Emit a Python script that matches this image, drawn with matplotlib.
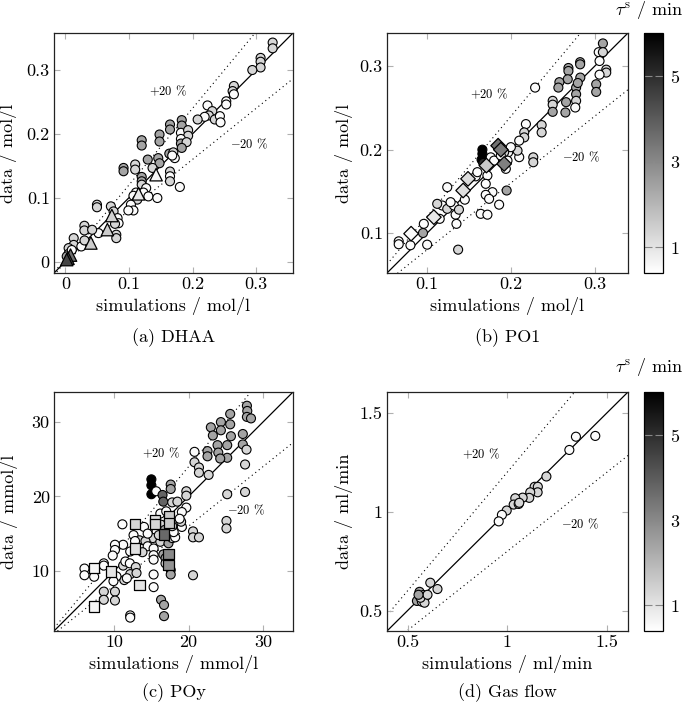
import matplotlib
matplotlib.use("Agg")
import matplotlib.pyplot as plt
import numpy as np

plt.rcParams['font.family'] = 'serif'
plt.rcParams['font.serif'] = ['cmr10']
plt.rcParams['mathtext.fontset'] = 'cm'
plt.rcParams['axes.formatter.use_mathtext'] = True
plt.rcParams['axes.unicode_minus'] = False

W, L, M, D, K = 0.5, 1.3, 2.4, 3.8, 6.0

# ---------------- (a) DHAA ----------------
a_x = [0.326, 0.326, 0.307, 0.307, 0.307, 0.294, 0.265, 0.263, 0.265, 0.253, 0.253, 0.2235, 0.231, 0.2256, 0.219,
       0.235, 0.243, 0.244, 0.208, 0.183, 0.183, 0.1645, 0.1645, 0.1817, 0.193, 0.193, 0.1817, 0.1817, 0.1906, 0.183,
       0.148, 0.148, 0.120, 0.120, 0.1634, 0.1697, 0.172, 0.168, 0.1295, 0.146, 0.148, 0.137, 0.1097, 0.1097, 0.0914,
       0.0914, 0.1645, 0.1645, 0.1645, 0.120, 0.120, 0.120, 0.180, 0.127, 0.1227, 0.1305, 0.111, 0.107, 0.113, 0.103,
       0.107, 0.099, 0.1446, 0.0496, 0.0496, 0.0715, 0.0757, 0.082, 0.0836, 0.078, 0.080, 0.080, 0.052, 0.0298, 0.0298,
       0.042, 0.013, 0.013, 0.025, 0.005, 0.030, 0.005, 0.010, 0.002]
a_y = [0.343, 0.334, 0.319, 0.313, 0.304, 0.300, 0.275, 0.267, 0.262, 0.251, 0.246, 0.2445, 0.2356, 0.2288, 0.2267,
       0.2225, 0.2277, 0.218, 0.2225, 0.2215, 0.213, 0.2147, 0.2068, 0.2016, 0.2058, 0.197, 0.192, 0.1848, 0.187, 0.178,
       0.199, 0.188, 0.190, 0.1817, 0.169, 0.171, 0.162, 0.166, 0.1597, 0.162, 0.154, 0.1466, 0.152, 0.144, 0.1466,
       0.1414, 0.141, 0.1335, 0.1257, 0.1325, 0.1257, 0.1204, 0.1168, 0.115, 0.108, 0.102, 0.108, 0.103, 0.097, 0.089,
       0.080, 0.080, 0.0995, 0.089, 0.085, 0.0864, 0.0785, 0.068, 0.060, 0.059, 0.042, 0.0366, 0.0445, 0.056, 0.0487,
       0.0497, 0.0366, 0.026, 0.0236, 0.021, 0.033, 0.012, 0.018, 0.008]
a_tau = [L, L, L, L, L, L, L, L, W, W, W, W, L, L, W,
         L, W, W, L, M, M, M, M, W, L, L, W, M, L, M,
         M, M, M, M, M, L, W, W, M, M, M, L, L, L, M,
         M, L, W, L, M, M, L, W, W, W, W, W, W, L, W,
         W, W, W, L, L, L, L, W, W, L, L, L, W, L, L,
         L, L, L, W, L, L, L, W, M]
a_tri_x = [0.1426, 0.115, 0.073, 0.066, 0.040, 0.008, 0.004, 0.002]
a_tri_y = [0.136, 0.106, 0.072, 0.050, 0.029, 0.010, 0.005, 0.003]
a_tri_tau = [0.6, 0.9, 1.4, 1.5, 1.5, 3.6, 4.2, 4.5]

# ---------------- (b) PO1 ----------------
b_x = [0.31, 0.305, 0.31, 0.306, 0.314, 0.314, 0.306, 0.302, 0.302, 0.2828, 0.2828, 0.2688, 0.2688, 0.283, 0.278,
       0.278, 0.280, 0.268, 0.258, 0.2568, 0.266, 0.278, 0.277, 0.25, 0.25, 0.25, 0.2652, 0.229, 0.2368, 0.2368,
       0.218, 0.216, 0.216, 0.21, 0.2268, 0.2268, 0.21, 0.195, 0.166, 0.166, 0.165, 0.167, 0.176, 0.18, 0.1968,
       0.196, 0.194, 0.172, 0.17, 0.178, 0.17, 0.174, 0.186, 0.164, 0.172, 0.124, 0.118, 0.124, 0.132, 0.134,
       0.135, 0.112, 0.096, 0.095, 0.1, 0.066, 0.066, 0.08, 0.137, 0.158, 0.16, 0.208, 0.2, 0.192, 0.188,
       0.138, 0.145, 0.115, 0.128]
b_y = [0.3275, 0.317, 0.317, 0.3064, 0.296, 0.2925, 0.290, 0.2785, 0.2693, 0.305, 0.3024, 0.298, 0.2944, 0.2865, 0.2745,
       0.2665, 0.280, 0.2845, 0.281, 0.2745, 0.257, 0.2586, 0.2506, 0.2586, 0.254, 0.2454, 0.2446, 0.2745, 0.2295, 0.2207,
       0.2307, 0.2207, 0.2147, 0.2108, 0.1908, 0.1849, 0.191, 0.151, 0.200, 0.195, 0.188, 0.184, 0.1908, 0.1869, 0.1968,
       0.1869, 0.177, 0.169, 0.159, 0.149, 0.1458, 0.141, 0.134, 0.123, 0.122, 0.155, 0.133, 0.129, 0.133, 0.122,
       0.111, 0.135, 0.111, 0.100, 0.086, 0.09, 0.0865, 0.0853, 0.080, 0.168, 0.173, 0.1988, 0.203, 0.197, 0.193,
       0.128, 0.140, 0.117, 0.137]
b_tau = [M, W, L, W, L, L, W, M, M, M, M, M, M, M, M,
         M, M, M, M, M, M, L, W, L, L, M, M, W, L, L,
         W, L, L, W, L, L, W, M, K, K, K, 5.0, W, W, W,
         W, W, W, W, W, W, W, W, W, W, W, W, L, W, W,
         W, L, W, M, W, W, W, W, L, W, W, L, W, L, W,
         L, W, W, W]
b_dia_x = [0.1848, 0.188, 0.192, 0.1708, 0.1488, 0.143, 0.108, 0.0808]
b_dia_y = [0.2048, 0.200, 0.1829, 0.1809, 0.165, 0.151, 0.119, 0.0992]
b_dia_tau = [3.5, 3.3, 3.2, 1.6, 1.2, 1.1, 0.9, 0.5]

# ---------------- (c) POy ----------------
c_x = [27.85, 27.9, 27.85, 28.4, 25.6, 25.6, 24.35, 24.35, 23.0, 23.27, 23.9, 24.0, 25.2, 25.2, 24.26,
       25.7, 27.3, 27.3, 27.8, 27.6, 27.6, 25.2, 25.1, 25.1, 22.55, 22.55, 22.7, 20.8, 20.8, 21.4,
       21.4, 15.0, 15.0, 15.0, 15.65, 17.6, 17.6, 16.5, 16.6, 19.7, 19.7, 19.7, 17.8, 18.5, 19.1,
       16.2, 16.3, 15.7, 15.2, 16.2, 17.3, 17.8, 18.2, 19.1, 19.0, 20.6, 20.6, 21.4, 12.6, 13.4,
       14.2, 14.5, 15.3, 15.3, 15.3, 16.6, 16.9, 16.9, 17.6, 17.6, 15.3, 15.3, 20.6, 16.3, 16.7,
       16.7, 12.15, 12.15, 8.6, 8.6, 10.1, 10.1, 11.2, 10.1, 10.1, 9.8, 11.2, 11.5, 12.1, 12.15,
       11.35, 10.3, 9.9, 8.6, 8.6, 6.0, 6.0, 7.3, 12.15, 14.0, 11.1, 12.8, 14.5, 16.0, 18.0,
       16.8, 18.8, 17.0, 17.8, 13.8, 12.9, 11.7, 13.0]
c_y = [32.2, 31.5, 30.7, 30.5, 31.1, 29.7, 30.0, 28.9, 29.3, 28.2, 26.9, 25.9, 26.9, 25.2, 25.1,
       28.1, 28.4, 27.0, 26.3, 24.3, 20.6, 20.3, 16.7, 15.7, 26.1, 25.4, 22.9, 26.0, 24.6, 23.9,
       23.2, 22.3, 21.5, 20.3, 20.7, 21.6, 21.0, 20.2, 19.3, 20.7, 20.1, 18.5, 19.2, 19.3, 17.9,
       17.7, 16.2, 15.3, 14.4, 13.9, 13.7, 14.4, 14.5, 15.9, 16.6, 15.3, 14.5, 14.5, 14.8, 14.1,
       14.0, 13.3, 13.0, 12.1, 11.5, 12.2, 11.7, 11.0, 10.1, 9.5, 9.5, 7.8, 9.4, 6.1, 5.4,
       3.9, 4.0, 3.7, 7.2, 6.1, 7.2, 6.0, 13.5, 13.5, 12.8, 12.05, 10.7, 11.25, 11.0, 9.55,
       8.75, 9.25, 8.6, 11.0, 10.7, 10.3, 9.4, 9.2, 12.6, 15.9, 16.25, 14.0, 15.0, 14.8, 15.2,
       15.5, 17.0, 18.0, 16.0, 12.5, 10.5, 9.0, 9.7]
c_tau = [M, M, M, M, M, M, M, M, M, M, M, M, M, M, M,
         M, M, M, L, L, L, L, L, L, M, M, L, W, L, L,
         L, K, K, K, W, M, M, D, D, L, L, W, L, L, W,
         W, L, W, L, L, M, L, W, W, L, L, L, L, W, L,
         L, W, W, W, W, M, M, L, M, M, W, W, L, M, M,
         M, W, W, L, L, L, L, W, W, W, W, L, W, W, L,
         L, W, W, W, W, W, W, W, W, W, W, W, W, L, W,
         M, W, W, L, L, L, W, L]
c_sq_x = [12.8, 15.5, 15.5, 17.4, 17.4, 16.7, 17.3, 17.3, 12.8, 9.55, 7.3, 13.4, 7.3]
c_sq_y = [16.3, 16.8, 16.25, 17.3, 16.4, 14.9, 12.3, 10.8, 13.0, 9.9, 10.4, 8.1, 5.2]
c_sq_tau = [1.3, 1.1, 1.3, 1.6, 1.6, 3.7, 3.0, 2.8, 1.1, 1.0, 0.6, 1.0, 0.6]

# ---------------- (d) Gas flow ----------------
d_x = [1.441, 1.344, 1.311, 1.196, 1.137, 1.153, 1.152, 1.115, 1.11, 1.077, 1.04, 1.032, 1.057, 1.06, 0.997,
       0.973, 0.957, 0.614, 0.65, 0.56, 0.547, 0.58, 0.59, 0.572, 0.585, 0.565, 0.6, 0.555]
d_y = [1.383, 1.379, 1.312, 1.178, 1.126, 1.126, 1.098, 1.098, 1.070, 1.071, 1.068, 1.036, 1.039, 1.045, 1.006,
       0.984, 0.951, 0.641, 0.609, 0.595, 0.549, 0.579, 0.572, 0.545, 0.54, 0.565, 0.58, 0.58]
d_tau = [W, W, W, L, L, L, L, L, L, L, L, L, L, L, L,
         W, W, L, L, M, M, L, L, L, L, L, L, M]

VMIN, VMAX = 0.4, 6.0
CMAP = 'gray_r'

fig = plt.figure(figsize=(6.85, 7.09), dpi=100)
W_px, H_px = 685, 709


def ax_rect(l, t, r, b):
    return [l / W_px, 1 - b / H_px, (r - l) / W_px, (b - t) / H_px]


panels = [
    dict(rect=ax_rect(54, 33, 293, 273), lim=(-0.018, 0.358), ticks=[0, 0.1, 0.2, 0.3],
         tl=['0', '0.1', '0.2', '0.3'], xl='simulations / mol/l', yl='data / mol/l',
         cap='(a) DHAA', x=a_x, y=a_y, t=a_tau, sx=a_tri_x, sy=a_tri_y, st=a_tri_tau, m='^', ms=80,
         plus=(0.162, 0.267), minus=(0.289, 0.184), ylc=-0.155, capy=338, cbar=None, cbt=None),
    dict(rect=ax_rect(387, 33, 628, 273), lim=(0.052, 0.340), ticks=[0.1, 0.2, 0.3],
         tl=['0.1', '0.2', '0.3'], xl='simulations / mol/l', yl='data / mol/l',
         cap='(b) PO1', x=b_x, y=b_y, t=b_tau, sx=b_dia_x, sy=b_dia_y, st=b_dia_tau, m='D', ms=55,
         plus=(0.174, 0.2665), minus=(0.284, 0.191), ylc=-0.143, capy=338,
         cbar=ax_rect(644, 33, 663, 273), cbt=10),
    dict(rect=ax_rect(54, 392, 293, 631), lim=(1.9, 34.05), ticks=[10, 20, 30],
         tl=['10', '20', '30'], xl='simulations / mmol/l', yl='data / mmol/l',
         cap='(c) POy', x=c_x, y=c_y, t=c_tau, sx=c_sq_x, sy=c_sq_y, st=c_sq_tau, m='s', ms=55,
         plus=(16.3, 25.8), minus=(27.8, 18.1), ylc=-0.15, capy=693, cbar=None, cbt=None),
    dict(rect=ax_rect(387, 392, 628, 631), lim=(0.397, 1.605), ticks=[0.5, 1.0, 1.5],
         tl=['0.5', '1', '1.5'], xl='simulations / ml/min', yl='data / ml/min',
         cap='(d) Gas flow', x=d_x, y=d_y, t=d_tau, sx=None, sy=None, st=None, m=None, ms=0,
         plus=(0.87, 1.29), minus=(1.366, 0.939), ylc=-0.14, capy=693,
         cbar=ax_rect(644, 392, 663, 631), cbt=367),
]

FS = 13
for p in panels:
    ax = fig.add_axes(p['rect'])
    lo, hi = p['lim']
    xx = np.array([lo, hi])
    ax.plot(xx, xx, color='black', lw=0.9, zorder=1)
    ax.plot(xx, 1.2 * xx, color='black', lw=0.8, ls=(0, (1, 3)), zorder=1)
    ax.plot(xx, 0.8 * xx, color='black', lw=0.8, ls=(0, (1, 3)), zorder=1)
    sc = ax.scatter(p['x'], p['y'], c=p['t'], cmap=CMAP, vmin=VMIN, vmax=VMAX, s=42,
                    edgecolors='black', linewidths=0.8, zorder=3)
    if p['sx'] is not None:
        ax.scatter(p['sx'], p['sy'], c=p['st'], cmap=CMAP, vmin=VMIN, vmax=VMAX, s=p['ms'],
                   marker=p['m'], edgecolors='black', linewidths=0.9, zorder=4)
    ax.text(p['plus'][0], p['plus'][1], r'$+$20 %', fontsize=9, ha='center', va='center')
    ax.text(p['minus'][0], p['minus'][1], r'$-$20 %', fontsize=9, ha='center', va='center')
    ax.set_xlim(lo, hi)
    ax.set_ylim(lo, hi)
    ax.set_xticks(p['ticks'])
    ax.set_yticks(p['ticks'])
    ax.set_xticklabels(p['tl'], fontsize=FS)
    ax.set_yticklabels(p['tl'], fontsize=FS)
    ax.tick_params(direction='in', length=4, width=0.8, color='#b0b0b0',
                   top=True, right=True, pad=3)
    for s in ax.spines.values():
        s.set_linewidth(0.9)
        s.set_color('#222222')
    ax.set_xlabel(p['xl'], fontsize=FS, labelpad=3)
    ax.set_ylabel(p['yl'], fontsize=FS)
    ax.yaxis.set_label_coords(p['ylc'], 0.5)
    r = p['rect']
    fig.text(r[0] + r[2] / 2, 1 - p['capy'] / H_px, p['cap'], fontsize=FS, ha='center', va='center')
    if p['cbar'] is not None:
        cax = fig.add_axes(p['cbar'])
        cb = fig.colorbar(sc, cax=cax, ticks=[1, 3, 5])
        cb.ax.tick_params(direction='in', length=6, width=0.8, color='#888888',
                          left=True, right=True, labelsize=FS, pad=5)
        cb.outline.set_linewidth(0.9)
        fig.text(683 / W_px, 1 - p['cbt'] / H_px, r'$\tau^{\mathrm{s}}$ / min', fontsize=FS,
                 ha='right', va='center')

fig.savefig('out.png', dpi=100)
